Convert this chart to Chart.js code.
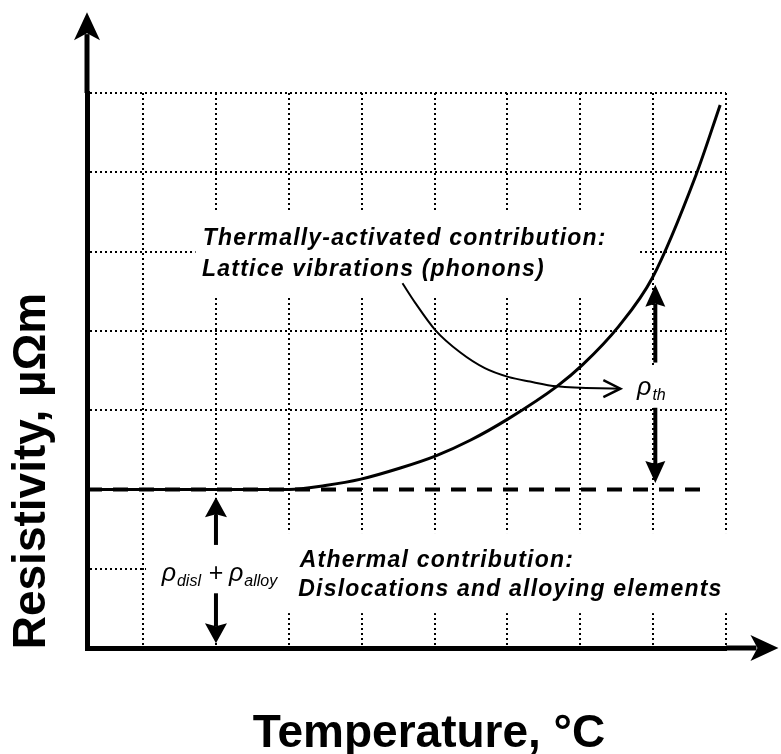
<!DOCTYPE html>
<html>
<head>
<meta charset="utf-8">
<script src="https://cdn.jsdelivr.net/npm/chart.js@4.4.0/dist/chart.umd.min.js"></script>
<style>
  html, body { margin: 0; padding: 0; background: #fff; }
  #wrap { width: 781px; height: 754px; position: relative; }
</style>
</head>
<body>
<div id="wrap"><canvas id="chart"></canvas></div>
<script>
// Resistivity vs temperature sketch (arbitrary units, no tick labels)

// grid positions (no dotted line under the dashed level at y=2)
const xTicks = [1, 2, 3, 4, 5, 6, 7, 8, 9];
const yTicks = [0, 1, 3, 4, 5, 6, 7];

// total resistivity curve
const tempX = [0.23, 1.99, 3.0, 3.5, 3.99, 4.53, 5.01, 5.49, 6.01, 6.68, 7.03, 7.53, 7.99, 8.59, 8.92];
const resistY = [2.0, 2.0, 2.0, 2.05, 2.13, 2.27, 2.42, 2.62, 2.89, 3.3, 3.57, 4.06, 4.67, 5.97, 6.85];

// athermal level (rho_disl + rho_alloy), dashed
const baseX = [0.23, 8.73];
const baseY = [2.0, 2.0];

// pointer from the phonon text to the curve
const pointerX = [4.56, 4.73, 5.01, 5.35, 5.69, 6.01, 6.31, 6.68, 7.55];
const pointerY = [4.6, 4.36, 4.01, 3.73, 3.53, 3.42, 3.36, 3.3, 3.27];

// double arrows: [x, low tip, low gap end, high gap start, high tip]
const thArrow = [8.03, 2.08, 3.03, 3.6, 4.58];
const dislArrow = [2.0, 0.06, 0.69, 1.3, 1.9];

const pts = (xs, ys) => xs.map((x, i) => ({ x: x, y: ys[i] }));

function head(ctx, tx, ty, dx, dy, len, half, notch) {
    const bx = tx - dx * len, by = ty - dy * len;
    const nx = -dy, ny = dx;
    ctx.beginPath();
    ctx.moveTo(tx, ty);
    ctx.lineTo(bx + nx * half, by + ny * half);
    ctx.lineTo(tx - dx * (len - notch), ty - dy * (len - notch));
    ctx.lineTo(bx - nx * half, by - ny * half);
    ctx.closePath();
    ctx.fill();
}

function seg(ctx, x1, y1, x2, y2, w) {
    ctx.lineWidth = w;
    ctx.beginPath();
    ctx.moveTo(x1, y1);
    ctx.lineTo(x2, y2);
    ctx.stroke();
}

function doubleArrow(ctx, xs, ys, a, w, len, half) {
    const px = xs.getPixelForValue(a[0]);
    const pLow = ys.getPixelForValue(a[1]);
    const gLow = ys.getPixelForValue(a[2]);
    const gHigh = ys.getPixelForValue(a[3]);
    const pHigh = ys.getPixelForValue(a[4]);
    seg(ctx, px, gHigh, px, pHigh + len - 3, w);
    head(ctx, px, pHigh, 0, -1, len, half, 3);
    seg(ctx, px, gLow, px, pLow - len + 3, w);
    head(ctx, px, pLow, 0, 1, len, half, 3);
}

const bigRho = 'italic 25px "Liberation Sans", Arial, sans-serif';
const subRho = 'italic 16px "Liberation Sans", Arial, sans-serif';

// label with a subscript: parts = [[text, isSub], ...]
function rhoText(ctx, parts, x, y) {
    let cx = x;
    for (const p of parts) {
        ctx.font = p[1] ? subRho : bigRho;
        ctx.fillText(p[0], cx, p[1] ? y + 5 : y);
        cx += ctx.measureText(p[0]).width + (p[1] ? 0 : 1);
    }
    return cx - x;
}

const sketch = {
    id: 'sketch',
    beforeDatasetsDraw(chart) {
        const { ctx, scales: { x, y } } = chart;
        // white boxes behind the annotations hide the grid
        const boxes = [
            [1.72, 7.82, 5.49, 4.43],
            [1.04, 9.12, 1.45, 0.44],
            [7.75, 8.3, 3.55, 3.05]
        ];
        ctx.save();
        ctx.fillStyle = '#fff';
        for (const b of boxes) {
            const l = x.getPixelForValue(b[0]), r = x.getPixelForValue(b[1]);
            const t = y.getPixelForValue(b[2]), bt = y.getPixelForValue(b[3]);
            ctx.fillRect(l, t, r - l, bt - t);
        }
        ctx.restore();
    },
    afterDatasetsDraw(chart) {
        const { ctx, chartArea: ca, scales: { x, y } } = chart;
        ctx.save();
        ctx.fillStyle = '#000';
        ctx.strokeStyle = '#000';

        // axis arrows
        const yTip = y.getPixelForValue(8.02);
        seg(ctx, ca.left, ca.top, ca.left, yTip + 22, 5);
        head(ctx, ca.left, yTip, 0, -1, 28, 13, 7);
        const xTip = x.getPixelForValue(9.72);
        seg(ctx, ca.right, ca.bottom, xTip - 22, ca.bottom, 5);
        head(ctx, xTip, ca.bottom, 1, 0, 28, 13, 7);

        // contribution arrows
        doubleArrow(ctx, x, y, thArrow, 4, 22, 10);
        doubleArrow(ctx, x, y, dislArrow, 4, 20, 11);

        // open head of the phonon pointer
        const n = pointerX.length - 1;
        const tx = x.getPixelForValue(pointerX[n]), ty = y.getPixelForValue(pointerY[n]);
        ctx.lineWidth = 2.5;
        ctx.beginPath();
        ctx.moveTo(tx - 17, ty - 8.5);
        ctx.lineTo(tx, ty);
        ctx.lineTo(tx - 17, ty + 8.5);
        ctx.stroke();

        // annotations
        ctx.textBaseline = 'alphabetic';
        ctx.textAlign = 'left';
        ctx.font = 'italic bold 23px "Liberation Sans", Arial, sans-serif';
        ctx.letterSpacing = '1.2px';
        ctx.fillText('Thermally-activated contribution:', x.getPixelForValue(1.82), y.getPixelForValue(5.08));
        ctx.fillText('Lattice vibrations (phonons)', x.getPixelForValue(1.81), y.getPixelForValue(4.69));
        ctx.fillText('Athermal contribution:', x.getPixelForValue(3.15), y.getPixelForValue(1.02));
        ctx.fillText('Dislocations and alloying elements', x.getPixelForValue(3.13), y.getPixelForValue(0.66));
        ctx.letterSpacing = '0px';

        // rho labels
        const dx = x.getPixelForValue(dislArrow[0]);
        const dy = y.getPixelForValue(0.85);
        ctx.font = '25px "Liberation Sans", Arial, sans-serif';
        ctx.textAlign = 'center';
        ctx.fillText('+', dx, dy);
        ctx.textAlign = 'left';
        rhoText(ctx, [['ρ', false], ['alloy', true]], dx + 13, dy);
        ctx.font = bigRho;
        const wl = ctx.measureText('ρ').width + 1;
        ctx.font = subRho;
        const ws = ctx.measureText('disl').width;
        rhoText(ctx, [['ρ', false], ['disl', true]], dx - 15 - wl - ws, dy);
        rhoText(ctx, [['ρ', false], ['th', true]], x.getPixelForValue(7.78), y.getPixelForValue(3.19));

        // axis titles
        ctx.font = 'bold 46px "Liberation Sans", Arial, sans-serif';
        ctx.textAlign = 'center';
        ctx.fillText('Temperature, °C', 429, 747);
        ctx.translate(45, 471);
        ctx.rotate(-Math.PI / 2);
        ctx.fillText('Resistivity, µΩm', 0, 0);
        ctx.restore();
    }
};

new Chart(document.getElementById('chart'), {
    type: 'line',
    data: {
        datasets: [
            {
                data: pts(tempX, resistY),
                borderColor: '#000',
                borderWidth: 3,
                pointRadius: 0,
                cubicInterpolationMode: 'monotone'
            },
            {
                data: pts(baseX, baseY),
                borderColor: '#000',
                borderWidth: 4,
                borderDash: [15, 11],
                pointRadius: 0
            },
            {
                data: pts(pointerX, pointerY),
                borderColor: '#000',
                borderWidth: 2,
                pointRadius: 0,
                cubicInterpolationMode: 'monotone'
            }
        ]
    },
    options: {
        responsive: true,
        maintainAspectRatio: false,
        animation: false,
        events: [],
        layout: { padding: { left: 87, right: 55, top: 93, bottom: 106 } },
        plugins: { legend: { display: false }, tooltip: { enabled: false } },
        scales: {
            x: {
                type: 'linear',
                min: 0.23,
                max: 9,
                afterBuildTicks: axis => { axis.ticks = xTicks.map(v => ({ value: v })); },
                ticks: { display: false },
                grid: { color: '#000', lineWidth: 2, drawTicks: false },
                border: { display: true, color: '#000', width: 5, dash: [2, 3] }
            },
            y: {
                type: 'linear',
                min: 0,
                max: 7,
                afterBuildTicks: axis => { axis.ticks = yTicks.map(v => ({ value: v })); },
                ticks: { display: false },
                grid: { color: '#000', lineWidth: 2, drawTicks: false },
                border: { display: true, color: '#000', width: 5, dash: [2, 3] }
            }
        }
    },
    plugins: [sketch]
});
</script>
</body>
</html>
